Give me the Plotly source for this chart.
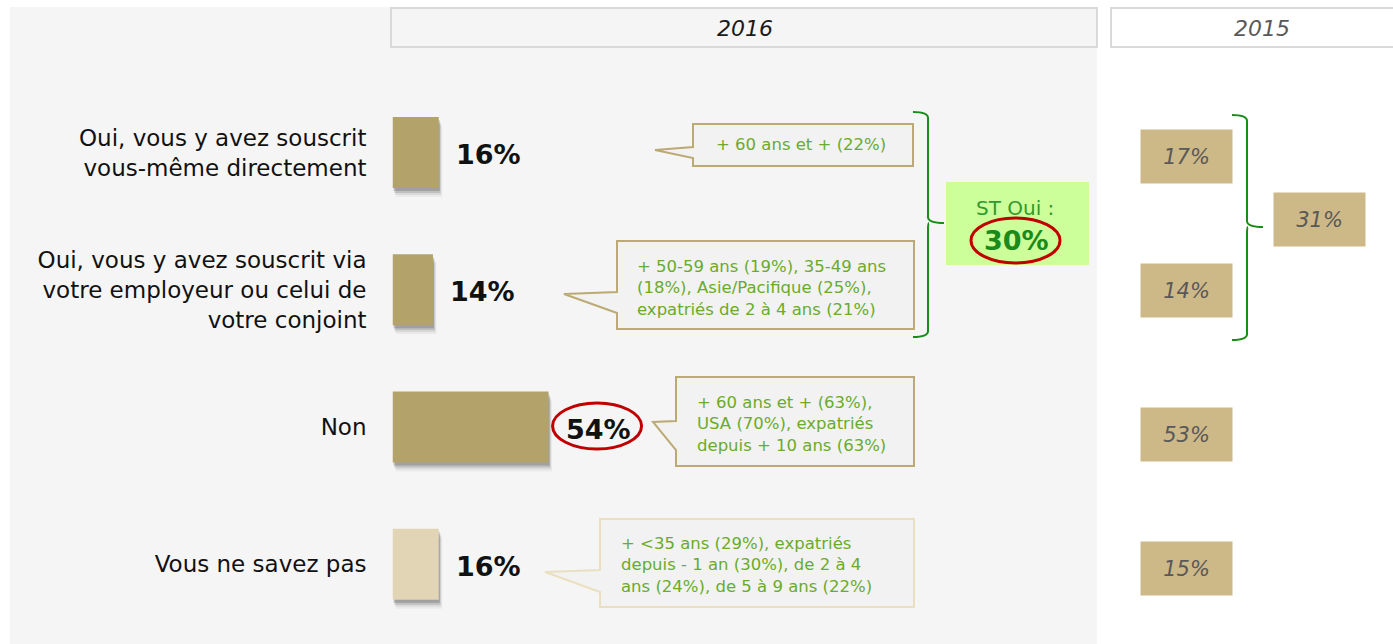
import plotly.graph_objects as go

# ---- data -------------------------------------------------------------
categories = [
    "Oui, vous y avez souscrit<br>vous-même directement",
    "Oui, vous y avez souscrit via<br>votre employeur ou celui de<br>votre conjoint",
    "Non",
    "Vous ne savez pas",
]
values_2016 = [16, 14, 54, 16]
values_2015 = [17, 14, 53, 15]
highlight_2016 = [False, False, True, False]
light_bar = [False, False, False, True]

callout_texts = [
    "+ 60 ans et + (22%)",
    "+ 50-59 ans (19%), 35-49 ans<br>(18%), Asie/Pacifique (25%),<br>expatriés de 2 à 4 ans (21%)",
    "+ 60 ans et + (63%),<br>USA (70%), expatriés<br>depuis + 10 ans (63%)",
    "+ &lt;35 ans (29%), expatriés<br>depuis - 1 an (30%), de 2 à 4<br>ans (24%), de 5 à 9 ans (22%)",
]
year_labels = ["2016", "2015"]
subtotal_label = "ST Oui :"

# ---- page geometry ----------------------------------------------------
W, H = 1393, 644
FONT = "DejaVu Sans"
BAR_DARK = "#b3a36b"
BAR_LIGHT = "#e2d5b5"
BOX_2015 = "#cdb887"
GREEN_TXT = "#6aab2a"
BRACE_GREEN = "#1a8c1a"
RED = "#c00000"

X0_PX = 392.5          # pixel where the 0 % of the bar axis sits
PX_PER_PCT = 2.89       # bar scale
ROW0_PX = 152.6         # centre of the first row
ROW_STEP = 137.2        # distance between rows
BAR_H_PX = 71


def px(x):
    return x / W


def py(y):
    return 1 - y / H


rows = list(range(len(categories)))
y_top = -ROW0_PX / ROW_STEP
y_bot = y_top + H / ROW_STEP
bar_w = BAR_H_PX / ROW_STEP

fig = go.Figure()

# soft drop shadow under the bars (stacked translucent layers)
for dx, dy, alpha in [(1.2, 9, 0.04), (0.9, 7, 0.07), (0.6, 5, 0.12),
                      (0.35, 3, 0.16)]:
    fig.add_trace(go.Bar(
        x=values_2016, y=rows, base=[dx] * len(rows), orientation="h",
        width=bar_w, offset=-bar_w / 2 + dy / ROW_STEP,
        marker=dict(color=f"rgba(0,0,0,{alpha})", line=dict(width=0)),
        hoverinfo="skip", showlegend=False,
    ))

fig.add_trace(go.Bar(
    x=values_2016, y=rows, orientation="h", width=bar_w,
    marker=dict(color=[BAR_LIGHT if l else BAR_DARK for l in light_bar],
                line=dict(width=0)),
    showlegend=False,
))

annotations = []
shapes = []


def label(x, y, text, size, color, xanchor="center"):
    return dict(xref="paper", yref="paper", x=px(x), y=py(y), text=text,
                xanchor=xanchor, yanchor="middle", showarrow=False,
                font=dict(family=FONT, size=size, color=color))


# grey panel behind the 2016 part
shapes.append(dict(type="rect", xref="paper", yref="paper", layer="below",
                   x0=px(10), x1=px(1097), y0=py(644), y1=py(7),
                   fillcolor="#f5f5f5", line=dict(width=0)))

# year headers
for (x0, x1, fill, col, tx), lab in zip(
        [(391, 1097, "#f5f5f5", "#1a1a1a", 745),
         (1111, 1394, "#ffffff", "#595959", 1262)],
        year_labels):
    shapes.append(dict(type="rect", xref="paper", yref="paper", layer="below",
                       x0=px(x0), x1=px(x1), y0=py(47), y1=py(8),
                       fillcolor=fill, line=dict(color="#d9d9d9", width=2)))
    annotations.append(label(tx, 29, f"<i>{lab}</i>", 22, col))

# value labels next to the bars
for r, v, hl in zip(rows, values_2016, highlight_2016):
    annotations.append(dict(x=v, y=r, xref="x", yref="y", text=f"<b>{v}%</b>",
                            xanchor="left", yanchor="middle", xshift=15,
                            yshift=-2, showarrow=False,
                            font=dict(family=FONT, size=27, color="#111111")))
    if hl:
        shapes.append(dict(type="circle", xref="x", yref="y",
                           xsizemode="pixel", ysizemode="pixel",
                           xanchor=v, yanchor=r, x0=4, x1=93, y0=-22, y1=24,
                           line=dict(color=RED, width=3)))

# speech-bubble callouts: box + tail drawn as one path
callout_geom = [
    # left, top, right, bottom, join_top, join_bottom, tip_x, tip_y
    (693, 124, 913, 166, 147, 158, 655, 150),
    (617, 241, 914, 329, 292, 313, 564, 294),
    (676, 377, 914, 466, 421, 450, 653, 422),
    (600, 519, 914, 607, 570, 592, 545, 572),
]
callout_text_pos = [("center", 801, 145), ("left", 635, 287.5),
                    ("left", 695, 424), ("left", 619, 565)]
callout_border = ["#bcaa74", "#bcaa74", "#bcaa74", "#eadfbf"]

for (l, t, r_, b, jt, jb, tx, ty), (anc, ax, ay), txt, bc in zip(
        callout_geom, callout_text_pos, callout_texts, callout_border):
    path = (f"M {px(l)},{py(t)} L {px(r_)},{py(t)} L {px(r_)},{py(b)} "
            f"L {px(l)},{py(b)} L {px(l)},{py(jb)} L {px(tx)},{py(ty)} "
            f"L {px(l)},{py(jt)} Z")
    shapes.append(dict(type="path", xref="paper", yref="paper", path=path,
                       fillcolor="#f2f2f2", line=dict(color=bc, width=2)))
    ann = label(ax, ay, txt, 16.5, GREEN_TXT, xanchor=anc)
    ann["align"] = "left"
    annotations.append(ann)


def brace(xh, xv, top, mid, bot, tip):
    r = 6
    return (f"M {px(xh)},{py(top)} Q {px(xv)},{py(top)} {px(xv)},{py(top + r)} "
            f"L {px(xv)},{py(mid - r)} Q {px(xv)},{py(mid)} {px(tip)},{py(mid)} "
            f"M {px(xv + 1)},{py(mid)} Q {px(xv)},{py(mid)} {px(xv)},{py(mid + r)} "
            f"L {px(xv)},{py(bot - r)} Q {px(xv)},{py(bot)} {px(xh)},{py(bot)}")


shapes.append(dict(type="path", xref="paper", yref="paper",
                   path=brace(913, 928, 112, 223, 337, 944),
                   line=dict(color=BRACE_GREEN, width=2)))
shapes.append(dict(type="path", xref="paper", yref="paper",
                   path=brace(1232, 1247, 115, 227, 340, 1263),
                   line=dict(color=BRACE_GREEN, width=2)))

# subtotal "oui" box for 2016
st_2016 = values_2016[0] + values_2016[1]
shapes.append(dict(type="rect", xref="paper", yref="paper", layer="below",
                   x0=px(946), x1=px(1089), y0=py(265), y1=py(182),
                   fillcolor="#ccff99", line=dict(width=0)))
annotations.append(label(1015, 208, subtotal_label, 20, "#2f9a2f"))
annotations.append(label(1016, 240, f"<b>{st_2016}%</b>", 27, "#1a8a1a"))
shapes.append(dict(type="circle", xref="paper", yref="paper",
                   x0=px(971), x1=px(1060), y0=py(263), y1=py(218),
                   line=dict(color=RED, width=3)))

# 2015 reference boxes
box_2015_y = [156.5, 290.5, 434.5, 568.5]
for v, yc in zip(values_2015, box_2015_y):
    ann = label(1186.5, yc, f"<i>{v}%</i>", 21, "#595959")
    ann.update(width=91, height=53, borderpad=0, bgcolor=BOX_2015)
    annotations.append(ann)
st_2015 = values_2015[0] + values_2015[1]
ann = label(1319.5, 219.5, f"<i>{st_2015}%</i>", 21, "#595959")
ann.update(width=91, height=53, borderpad=0, bgcolor=BOX_2015)
annotations.append(ann)

fig.update_layout(
    width=W, height=H,
    margin=dict(l=0, r=0, t=0, b=0, pad=0),
    paper_bgcolor="white", plot_bgcolor="rgba(0,0,0,0)",
    barmode="overlay", showlegend=False,
    shapes=shapes, annotations=annotations,
    xaxis=dict(domain=[px(X0_PX), px(X0_PX + 100 * PX_PER_PCT)], range=[0, 100],
               showgrid=False, zeroline=False, showticklabels=False,
               fixedrange=True),
    yaxis=dict(range=[y_bot, y_top], tickvals=rows, ticktext=categories,
               showgrid=False, zeroline=False, showline=False, ticks="",
               ticklabelstandoff=25,
               tickfont=dict(family=FONT, size=23, color="#111111"),
               fixedrange=True),
)

fig.write_html("out.html")
